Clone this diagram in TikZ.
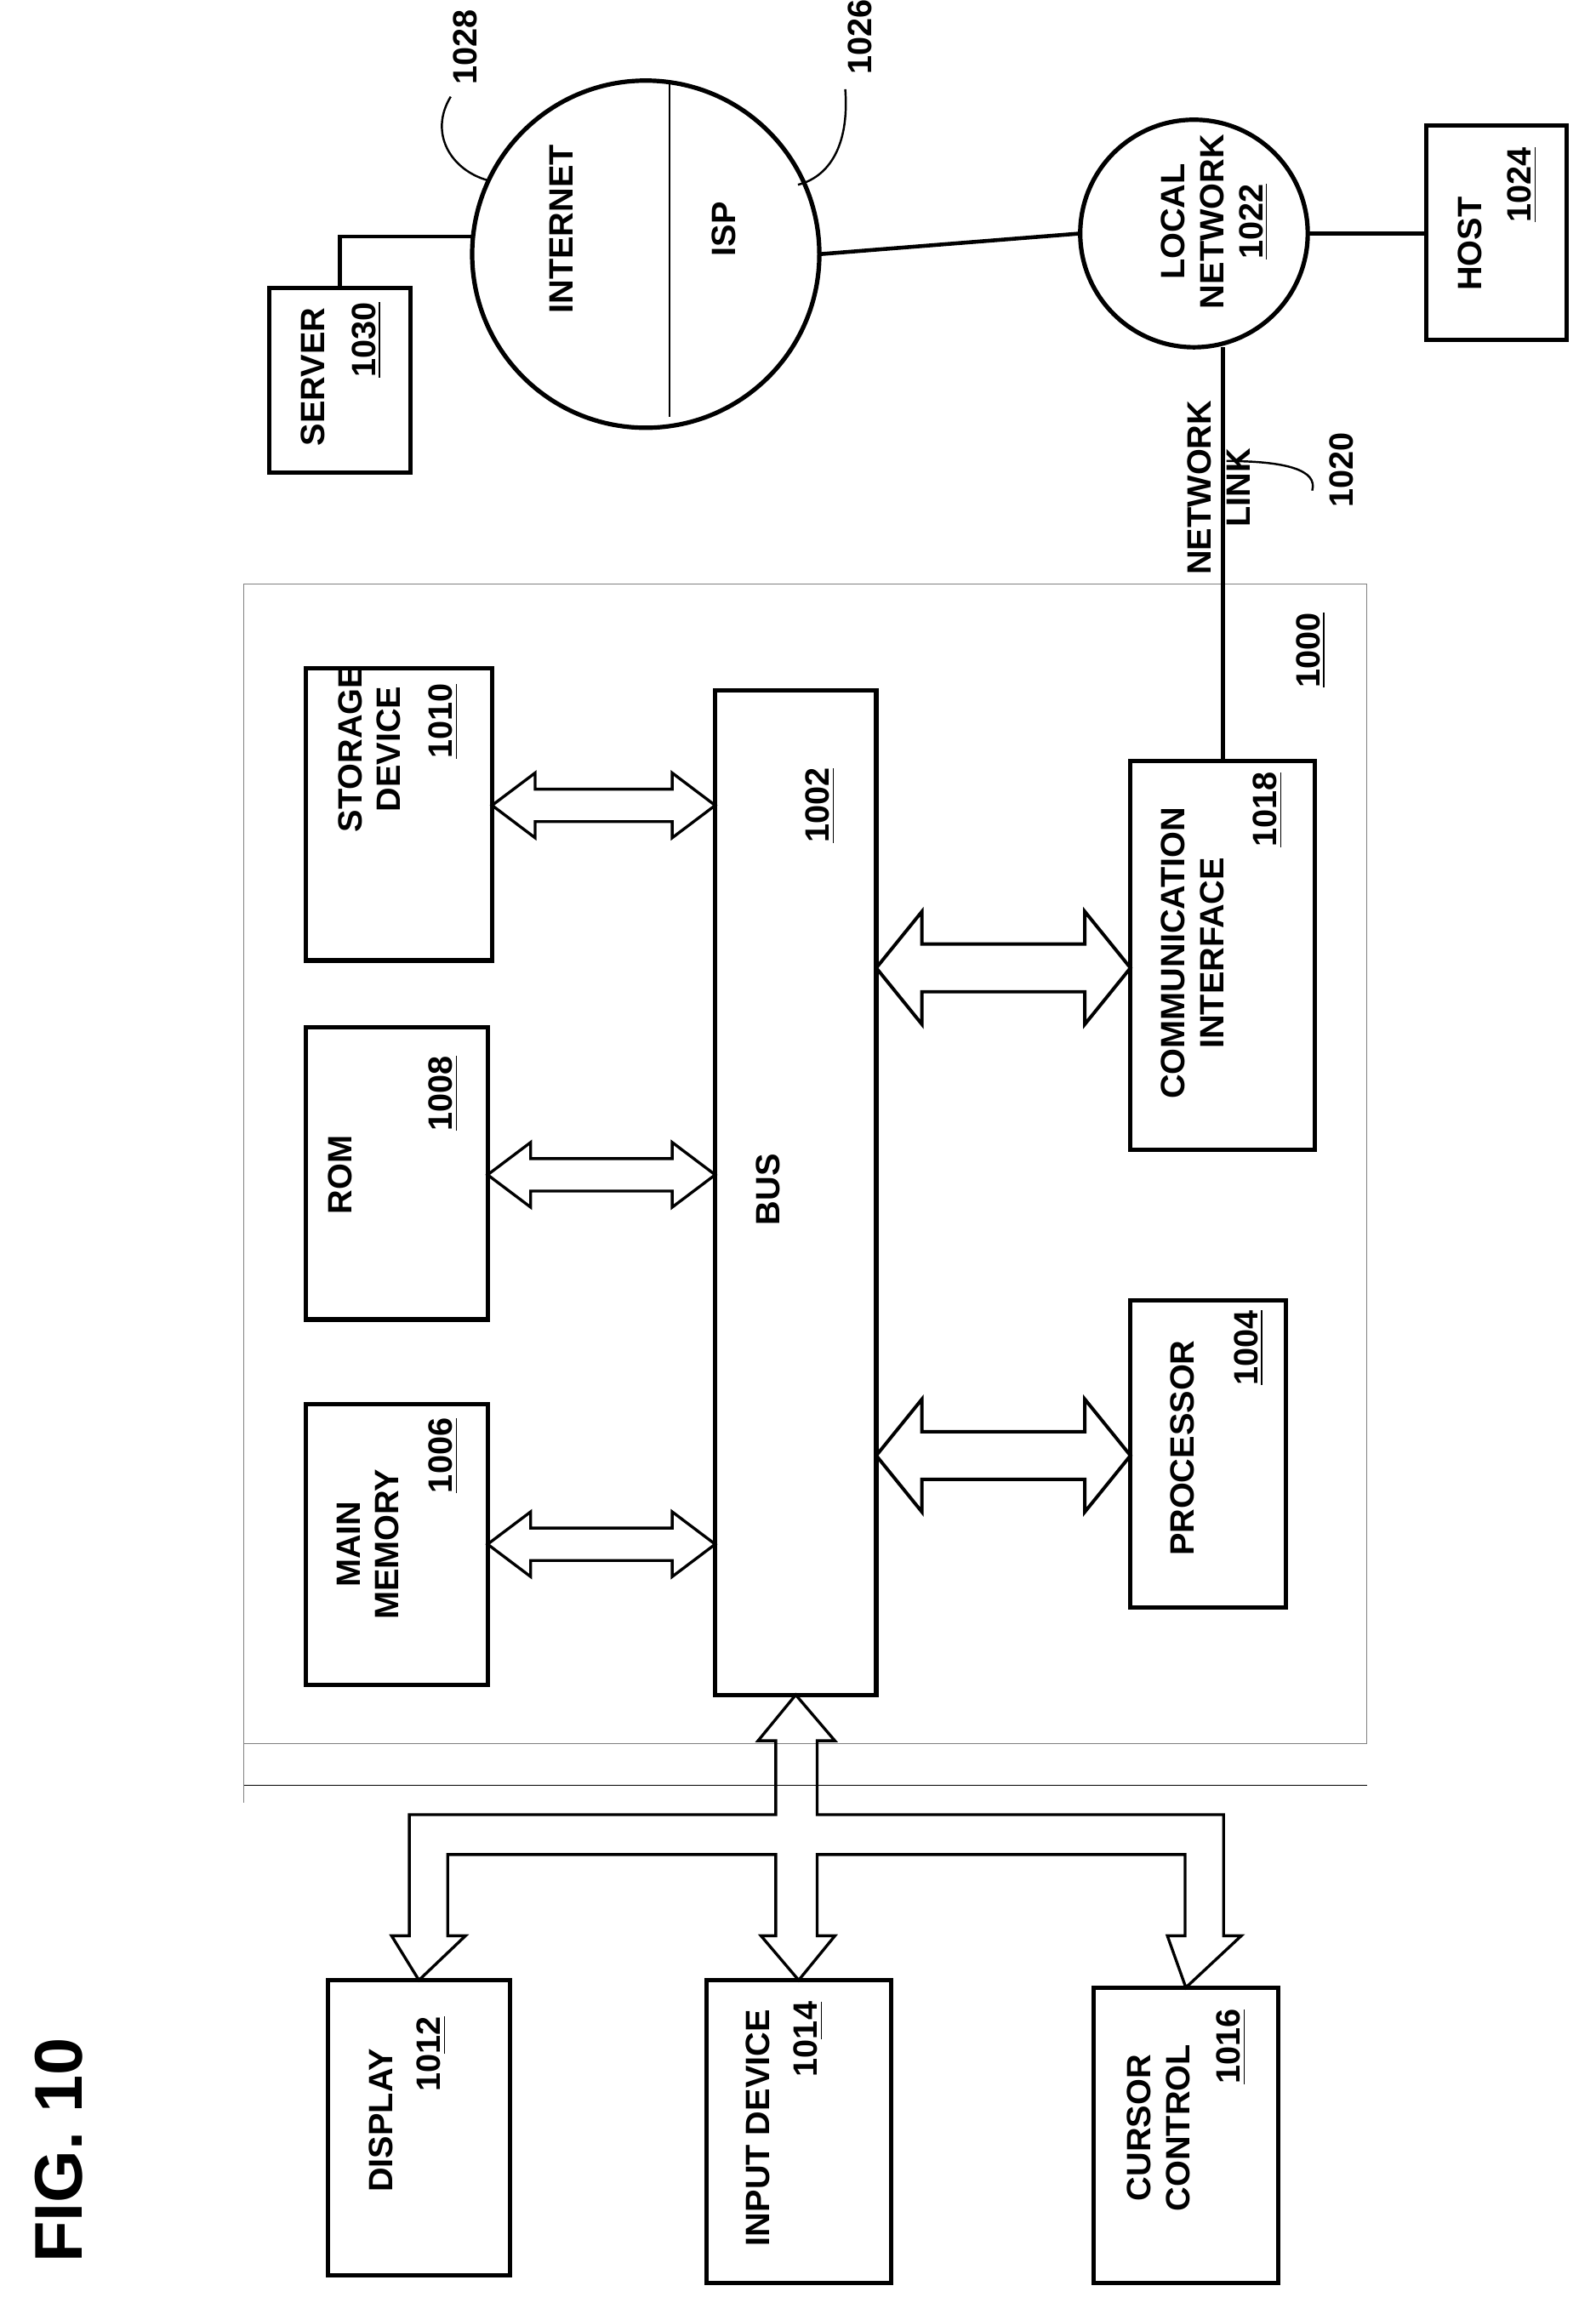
\documentclass[tikz,border=0pt]{standalone}
\usepackage{fontspec}
\setmainfont{Liberation Sans}
\usetikzlibrary{shapes.arrows,calc}

\newcommand\dblarrow[4]{%
  \path let \p1=(#2 |- 0,#4), \p2=(#3 |- 0,#4) in
    node[#1, minimum height={\x2-\x1}] at ($(\p1)!0.5!(\p2)$) {};}

\begin{document}
\begin{tikzpicture}[x=0.02cm, y=-0.02cm]
	\tikzset{every node/.style={font=\fontsize{13}{15}\selectfont\bfseries, inner sep=0pt, outer sep=0pt}}
	\tikzset{box/.style={draw, line width=1.7pt}}
	\tikzset{txt/.style={rotate=90, align=center}}
	\tikzset{small arrow/.style={double arrow, draw, line width=1.1pt, inner sep=0.2cm, minimum width=0.84cm, double arrow head extend=0.22cm, double arrow tip angle=74}}
	\tikzset{big arrow/.style={double arrow, draw, line width=1.3pt, inner sep=0.3cm, minimum width=1.48cm, double arrow head extend=0.44cm, double arrow tip angle=102}}
	\useasboundingbox (0,0) rectangle (1080,1570);

	% computer system
	\draw[gray, line width=0.4pt] (165,395) rectangle (925,1180);
	\draw[gray, line width=0.4pt] (165,1180) -- (165,1220);
	\draw[line width=0.4pt] (165,1208) -- (925,1208);
	\node[txt] (n1000) at (887,440) {\underline{1000}};

	\node[box, minimum width=2.46cm, minimum height=3.8cm] (mem) at (268.5,1045) {};
	\node[box, minimum width=2.46cm, minimum height=3.96cm] (rom) at (268.5,794) {};
	\node[box, minimum width=2.52cm, minimum height=3.96cm] (sto) at (270,551) {};
	\node[box, minimum width=2.18cm, minimum height=13.6cm] (bus) at (538.5,807) {};
	\node[box, minimum width=2.5cm, minimum height=5.26cm] (comm) at (827.5,646.5) {};
	\node[box, minimum width=2.1cm, minimum height=4.16cm] (proc) at (817.5,984) {};
	\node[box, minimum width=2.46cm, minimum height=4.0cm] (disp) at (283.5,1440) {};
	\node[box, minimum width=2.5cm, minimum height=4.1cm] (inp) at (540.5,1442.5) {};
	\node[box, minimum width=2.5cm, minimum height=4.0cm] (cur) at (802.5,1445) {};
	\node[box, minimum width=1.92cm, minimum height=2.5cm] (server) at (230,257.5) {};
	\node[box, minimum width=1.9cm, minimum height=2.9cm] (host) at (1012.5,157.5) {};

	\node[txt] (memt) at (249,1045) {MAIN\\MEMORY};
	\node[txt] (memn) at (300,985) {\underline{1006}};
	\node[txt] (romt) at (230,795) {ROM};
	\node[txt] (romn) at (300,740) {\underline{1008}};
	\node[txt] (stot) at (250,507) {STORAGE\\DEVICE};
	\node[txt] (ston) at (300,488) {\underline{1010}};
	\node[txt] (bust) at (520,805) {BUS};
	\node[txt] (busn) at (555,545) {\underline{1002}};
	\node[txt] (commt) at (807,645) {COMMUNICATION\\INTERFACE};
	\node[txt] (commn) at (858,548) {\underline{1018}};
	\node[txt] (proct) at (800,980) {PROCESSOR};
	\node[txt] (procn) at (845,912) {\underline{1004}};
	\node[txt] (dispt) at (258,1435) {DISPLAY};
	\node[txt] (dispn) at (292,1390) {10\underline{12}};
	\node[txt] (inpt) at (513,1440) {INPUT DEVICE};
	\node[txt] (inpn) at (547,1380) {10\underline{14}};
	\node[txt] (curt) at (784,1440) {CURSOR\\CONTROL};
	\node[txt] (curn) at (833,1385) {\underline{1016}};
	\node[txt] (servert) at (212,255) {SERVER};
	\node[txt] (servern) at (248,230) {\underline{1030}};
	\node[txt] (hostt) at (995,165) {HOST};
	\node[txt] (hostn) at (1030,125) {\underline{1024}};

	% bus arrows
	\dblarrow{small arrow}{mem.east}{bus.west}{1045}
	\dblarrow{small arrow}{rom.east}{bus.west}{795}
	\dblarrow{small arrow}{sto.east}{bus.west}{545}
	\dblarrow{big arrow}{bus.east}{proc.west}{985}
	\dblarrow{big arrow}{bus.east}{comm.west}{655}
	\draw[line width=1.1pt, line join=miter] (bus.south) -- (565,1178) -- (553,1178) -- (553,1228) -- (828,1228) -- (828,1310) -- (840,1310)
		-- (cur.north) -- (790,1310) -- (802,1310) -- (802,1255) -- (553,1255) -- (553,1310) -- (565,1310) -- (inp.north)
		-- (515,1310) -- (525,1310) -- (525,1255) -- (303,1255) -- (303,1310) -- (315,1310) -- (disp.north) -- (265,1310)
		-- (277,1310) -- (277,1228) -- (525,1228) -- (525,1178) -- (513,1178) -- cycle;

	% networks
	\node[draw, circle, line width=1.7pt, minimum size=4.7cm] (inet) at (437,172) {};
	\draw[line width=0.8pt] (453,55) -- (453,282);
	\node[txt] (inett) at (380,155) {INTERNET};
	\node[txt] (ispt) at (490,155) {ISP};
	\node[draw, circle, line width=1.7pt, minimum size=3.08cm] (lan) at (808,158) {};
	\node[txt] (lant) at (822,150) {LOCAL\\NETWORK\\\underline{1022}};
	\coordinate (sk) at (230,160);
	\draw[line width=1.5pt] (server.north) -- (sk) -- (sk -| inet.west);
	\draw[line width=1.5pt] (inet.east) -- (lan.west);
	\draw[line width=1.5pt] (lan.east) -- (lan.east -| host.west);
	\draw[line width=1.5pt] (lan.south -| comm.north) -- (comm.north);
	\node[txt] (linkt) at (825,330) {NETWORK\\LINK};

	% reference numerals
	\node[txt] (n1028) at (315,32) {1028};
	\node[txt] (n1026) at (582,25) {1026};
	\node[txt] (n1020) at (908,318) {1020};
	\coordinate (c1028) at (330,122);
	\coordinate (c1026) at (540,125);
	\coordinate (c1020) at (830,312);
	\draw[line width=0.8pt] (n1028.west) ++(-10,8) .. controls (290,90) and (305,115) .. (c1028);
	\draw[line width=0.8pt] (n1026.west) ++(-10,10) .. controls (575,100) and (560,120) .. (c1026);
	\draw[line width=0.8pt] (c1020) .. controls (870,312) and (892,318) .. (888,332);

	\node[rotate=90, font=\fontsize{26}{30}\selectfont\bfseries] (fig) at (40,1455) {FIG. 10};
\end{tikzpicture}
\end{document}
